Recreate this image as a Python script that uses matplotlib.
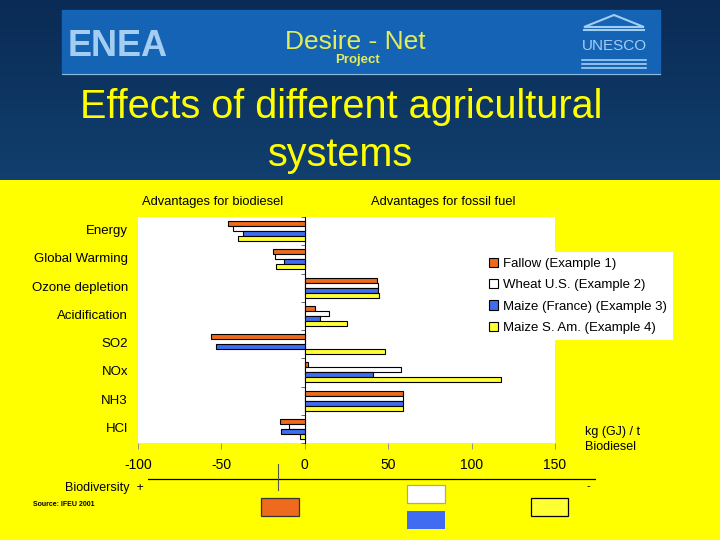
import numpy as np
import matplotlib
matplotlib.use('Agg')
import matplotlib.pyplot as plt
from matplotlib.patches import Rectangle, Polygon

plt.rcParams['font.family'] = ['Liberation Sans', 'DejaVu Sans']

# impacts, kg (GJ) / t biodiesel
categories = ['Energy', 'Global Warming', 'Ozone depletion', 'Acidification',
              'SO2', 'NOx', 'NH3', 'HCl']
series = ['Fallow (Example 1)', 'Wheat U.S. (Example 2)',
          'Maize (France) (Example 3)', 'Maize S. Am. (Example 4)']
fallow = [-46, -19, 43.5, 6, -56, 2, 59, -15]
wheat = [-43, -18, 44, 14.5, 0, 57.5, 59, -9.5]
maize_fr = [-37, -12.5, 44, 9, -53, 41, 59, -14]
maize_sa = [-40, -17, 44.5, 25, 48, 117.5, 59, -3]
colors = ['#ee6a1c', '#ffffff', '#3f6cf0', '#ffff33']
xticks = [-100, -50, 0, 50, 100, 150]

# biodiversity: position between + (0) and - (1), row in the strip
bio_pos = [0.295, 0.62, 0.62, 0.896]
bio_row = [1, 0, 2, 1]

fig = plt.figure(figsize=(7.2, 5.4), dpi=100)

# slide background drawn in pixel units
bg = fig.add_axes([0, 0, 1, 1])
bg.axis('off')
bg.add_patch(Rectangle((0, 180), 720, 360, color='#ffff00', zorder=0))
grad = np.linspace(0, 1, 100).reshape(-1, 1)
bg.imshow(grad, extent=(0, 720, 180, 0), aspect='auto', zorder=0,
          cmap=matplotlib.colors.LinearSegmentedColormap.from_list('n', ['#0a2b55', '#113f6e']))
bg.set_xlim(0, 720)
bg.set_ylim(540, 0)

# banner
bg.add_patch(Rectangle((62, 10), 598, 64, color='#1463b4', zorder=1))
bg.plot([62, 660], [74, 74], color='#8fb8e0', lw=0.8, zorder=2)
bg.text(68, 46, 'ENEA', fontsize=26, fontweight='bold', color='#a4cdf2',
        va='center', ha='left', zorder=3)
bg.text(355, 49, 'Desire - Net', fontsize=19, color='#e4ec5a', ha='center',
        va='baseline', zorder=3)
bg.text(357, 63, 'Project', fontsize=9.5, fontweight='bold', color='#e4ec5a',
        ha='center', va='baseline', zorder=3)
# UNESCO temple
bg.add_patch(Polygon([[584, 27], [614, 15], [644, 27]], closed=True, fill=False,
                     edgecolor='#a4cdf2', lw=1.5, zorder=3))
bg.plot([584, 644], [30, 30], color='#a4cdf2', lw=1.5, zorder=3)
bg.text(614, 46, 'UNESCO', fontsize=11, color='#a4cdf2',
        ha='center', va='center', zorder=3)
for yy in [60, 64, 68]:
    bg.plot([582, 646], [yy, yy], color='#a4cdf2', lw=1.2, zorder=3)

bg.text(341, 107, 'Effects of different agricultural', fontsize=28.5, color='#ffff00',
        ha='center', va='center')
bg.text(341, 155, 'systems', fontsize=28.5, color='#ffff00',
        ha='center', va='center')

bg.text(213, 202, 'Advantages for biodiesel', fontsize=9.3, ha='center', va='center')
bg.text(443, 202, 'Advantages for fossil fuel', fontsize=9.3, ha='center', va='center')
bg.text(585, 432, 'kg (GJ) / t', fontsize=9, ha='left', va='center')
bg.text(585, 447, 'Biodiesel', fontsize=9, ha='left', va='center')
bg.text(33, 505, 'Source: IFEU 2001', fontsize=5, fontweight='bold', ha='left', va='center')

# main chart
ax = fig.add_axes([138 / 720, 1 - 443 / 540, 417 / 720, 226 / 540])
ax.set_facecolor('white')
y = np.arange(len(categories))
h = 0.177
for i, (vals, c) in enumerate(zip([fallow, wheat, maize_fr, maize_sa], colors)):
    ax.barh(y + (i - 1.5) * h, vals, height=h, color=c, edgecolor='black',
            linewidth=0.8, label=series[i], zorder=3)
ax.set_xlim(-100, 150)
ax.set_ylim(len(categories) - 0.5, -0.5)
for s in ['top', 'right', 'bottom']:
    ax.spines[s].set_visible(False)
ax.spines['left'].set_position(('data', 0))
ax.spines['left'].set_linewidth(0.8)
ax.set_yticks(np.arange(len(categories) + 1) - 0.5)
ax.set_yticklabels([])
ax.tick_params(axis='y', length=3, width=0.6, color='#555555')
ax.set_xticks(xticks)
ax.set_xticklabels([str(t) for t in xticks], fontsize=10)
ax.tick_params(axis='x', length=4, width=0.6, color='#888888', pad=7)
for yi, cat in zip(y, categories):
    ax.text(-0.024, yi, cat, transform=ax.get_yaxis_transform(), ha='right',
            va='center', fontsize=9.5)

fig.legend(loc='upper left', bbox_to_anchor=(483 / 720, 1 - 252 / 540),
           borderaxespad=0, fontsize=9.5, frameon=True, facecolor='white',
           edgecolor='none', fancybox=False, framealpha=1, handlelength=0.7,
           handleheight=0.7, handletextpad=0.35, labelspacing=0.68, borderpad=0.45)

# biodiversity strip
bx = fig.add_axes([148 / 720, 1 - 532 / 540, 448 / 720, 70 / 540])
bx.set_xlim(0, 1)
bx.set_ylim(2.92, -2.46)
bx.axis('off')
bx.axhline(-1.15, color='black', lw=0.9)
bx.plot([0.29, 0.29], [-2.3, -0.3], color='#555555', lw=0.8)
edges = ['#333333', '#b8a870', 'none', 'black']
for p, r, c, e in zip(bio_pos, bio_row, colors, edges):
    bx.bar(p, 1.42, bottom=r - 0.71, width=0.084, color=c, edgecolor=e, linewidth=0.9)
bg.text(65, 488, 'Biodiversity  +', fontsize=9, ha='left', va='center')
bg.text(588, 486, '-', fontsize=8, ha='center', va='center')

fig.savefig('out.png', dpi=100)
